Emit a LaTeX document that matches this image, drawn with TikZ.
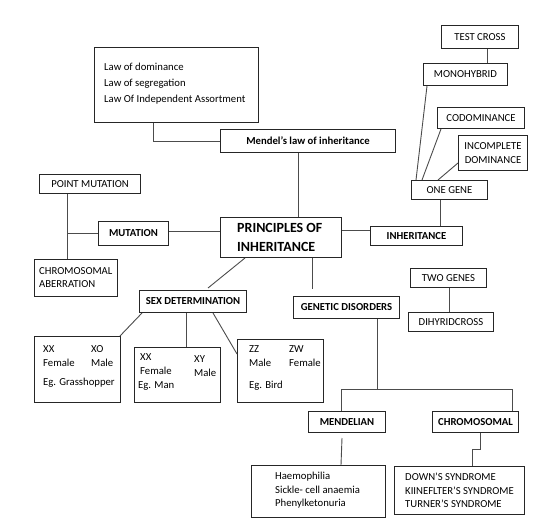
\documentclass[tikz,border=0pt]{standalone}
\usepackage{fontspec}
\setmainfont{Carlito}
\usetikzlibrary{calc}
\begin{document}
\begin{tikzpicture}[x=1pt,y=-1pt,
  box/.style={draw=black!85, line width=1pt, inner sep=0pt, anchor=north west,
    font=\fontsize{10.7}{15}\selectfont, text=black},
  hbox/.style={box, font=\bfseries\fontsize{10.7}{13}\selectfont},
  conn/.style={draw=black!70, line width=0.9pt},
  txt/.style={anchor=west, inner sep=0pt, align=left, text=black,
    font=\fontsize{10.7}{13.5}\selectfont},
  lbl/.style={anchor=west, inner sep=0pt, text=black,
    font=\fontsize{10.7}{13}\selectfont}]
\useasboundingbox (0,0) rectangle (554,526);
% boxes
\node[box, minimum width=164, minimum height=75] (laws) at (94,47) {};
\node[txt, font=\fontsize{10.7}{16}\selectfont] (lawsT) at ($(laws.west)+(10,-1.5)$)
  {Law of dominance\\Law of segregation\\Law Of Independent Assortment};
\node[hbox, minimum width=175, minimum height=23] (mendel) at (220,129) {Mendel’s law of inheritance};
\node[box, minimum width=77, minimum height=23] (testcross) at (441,25) {TEST CROSS};
\node[box, minimum width=84, minimum height=22] (mono) at (423,63) {MONOHYBRID};
\node[box, minimum width=87, minimum height=21] (codo) at (437,107) {CODOMINANCE};
\node[box, minimum width=69, minimum height=35, align=center, font=\fontsize{10.7}{13.5}\selectfont] (incomp) at (458,135) {INCOMPLETE\\DOMINANCE};
\node[box, minimum width=76, minimum height=19] (onegene) at (411,180) {ONE GENE};
\node[box, minimum width=101, minimum height=19] (pointmut) at (39,174) {POINT MUTATION};
\node[hbox, minimum width=70, minimum height=24] (mutation) at (98,221) {MUTATION};
\node[box, minimum width=83, minimum height=37] (chromab) at (34,259) {};
\node[txt, font=\fontsize{10.7}{13}\selectfont] (chromabT) at ($(chromab.west)+(5,0)$) {CHROMOSOMAL\\ABERRATION};
\node[box, minimum width=121, minimum height=40] (principles) at (220,217) {};
\node[txt, font=\bfseries\fontsize{14}{18.5}\selectfont] (principlesT) at ($(principles.west)+(17,0)$) {PRINCIPLES OF\\INHERITANCE};
\node[hbox, minimum width=92, minimum height=19] (inheritance) at (370,226) {INHERITANCE};
\node[hbox, minimum width=107, minimum height=22] (sexdet) at (139,290) {SEX DETERMINATION};
\node[hbox, minimum width=106, minimum height=22] (gendis) at (293,296) {GENETIC DISORDERS};
\node[box, minimum width=76, minimum height=19] (twogenes) at (410,268) {TWO GENES};
\node[box, minimum width=85, minimum height=19] (dihy) at (408,312) {DIHYRIDCROSS};
\node[box, minimum width=86, minimum height=66] (xxxo) at (34,336) {};
\node[box, minimum width=86, minimum height=55] (man) at (134,347) {};
\node[box, minimum width=86, minimum height=63] (bird) at (237,339) {};
\node[hbox, minimum width=77, minimum height=21] (mendelian) at (308,411) {MENDELIAN};
\node[hbox, minimum width=86, minimum height=21] (chromosomal) at (432,411) {CHROMOSOMAL};
\node[box, minimum width=134, minimum height=52] (haem) at (251,465) {};
\node[txt] (haemT) at ($(haem.north west)+(24,25.5)$) {Haemophilia\\Sickle- cell anaemia\\Phenylketonuria};
\node[box, minimum width=130, minimum height=48] (synd) at (394,466) {};
\node[txt] (syndT) at ($(synd.north west)+(11,24.5)$) {DOWN’S SYNDROME\\KIINEFLTER’S SYNDROME\\TURNER’S SYNDROME};
% labels inside sex boxes
\node[lbl] (a1) at (43,349) {XX};
\node[lbl] (a2) at (91,349) {XO};
\node[lbl] (a3) at (43,363) {Female};
\node[lbl] (a4) at (91,363) {Male};
\node[lbl] (a5) at (43,383) {Eg. Grasshopper};
\node[lbl] (b1) at (140,357) {XX};
\node[lbl] (b2) at (140,371) {Female};
\node[lbl] (b3) at (138,386) {Eg. Man};
\node[lbl] (b4) at (194,359) {XY};
\node[lbl] (b5) at (194,373) {Male};
\node[lbl] (c1) at (249,349) {ZZ};
\node[lbl] (c2) at (289,349) {ZW};
\node[lbl] (c3) at (249,363) {Male};
\node[lbl] (c4) at (289,363) {Female};
\node[lbl] (c5) at (249,386) {Eg. Bird};
% connectors
\draw[conn] ($(laws.south west)+(59,0)$) |- (mendel.west);
\draw[conn] ($(mendel.south west)+(78,0)$) -- ($(principles.north west)+(78,0)$);
\draw[conn] ($(testcross.south west)+(46,0)$) -- ($(mono.north west)+(64,0)$);
\draw[conn] ($(mono.south west)+(4,0)$) -- ($(onegene.north west)+(5,0)$);
\draw[conn] ($(codo.south west)+(4,0)$) -- ($(onegene.north west)+(11,0)$);
\draw[conn] ($(incomp.south west)+(0,-8)$) -- ($(onegene.north west)+(27,0)$);
\draw[conn] ($(onegene.south west)+(29,0)$) -- ($(inheritance.north west)+(70,0)$);
\draw[conn] ($(principles.north east)+(0,13)$) -- ($(inheritance.north west)+(0,4)$);
\draw[conn] ($(mutation.north east)+(0,10)$) -- ($(principles.north west)+(0,14)$);
\draw[conn] ($(pointmut.south west)+(28,0)$) -- ($(chromab.north west)+(33,0)$);
\coordinate (mj) at ($(pointmut.south west)+(28,39)$);
\draw[conn] (mj) -- (mj -| mutation.west);
\draw[conn] ($(principles.south west)+(25,0)$) -- ($(sexdet.north west)+(69,-2)$);
\draw[conn] ($(principles.south west)+(92,0)$) -- ($(gendis.north west)+(19,-7)$);
\draw[conn] ($(twogenes.south west)+(39,0)$) -- ($(dihy.north west)+(41,0)$);
\draw[conn] ($(sexdet.south west)+(3,0)$) -- ($(xxxo.north east)+(-1,0)$);
\draw[conn] ($(sexdet.south west)+(47,0)$) -- ($(man.north west)+(52,0)$);
\draw[conn] ($(sexdet.south west)+(74,0)$) -- ($(bird.north west)+(0,15)$);
\draw[conn] ($(gendis.south west)+(84,0)$) -- ++(0,71);
\draw[conn] ($(mendelian.north west)+(33,0)$) -- ++(0,-22) -| ($(chromosomal.north west)+(80,0)$);
\draw[conn] ($(mendelian.south west)+(34,5)$) -- ($(haem.north west)+(90,0)$);
\draw[conn] ($(chromosomal.south west)+(48,0)$) -- ++(0,16) -| ($(synd.north west)+(78,0)$);
\end{tikzpicture}
\end{document}
